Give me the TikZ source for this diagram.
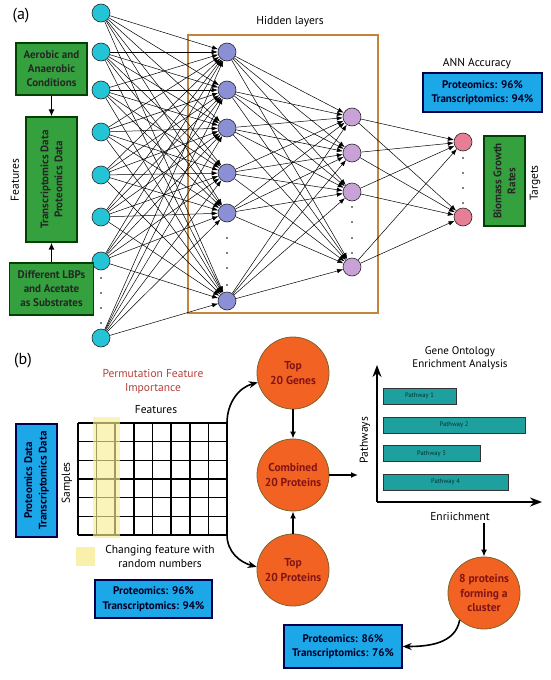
\documentclass[tikz,border=0pt]{standalone}
\usepackage{fontspec}
\setmainfont{PT Sans}
\usetikzlibrary{arrows.meta, calc, positioning}
\definecolor{inCyan}{RGB}{34,196,214}
\definecolor{hidA}{RGB}{138,143,214}
\definecolor{hidB}{RGB}{200,162,214}
\definecolor{outPink}{RGB}{230,126,150}
\definecolor{boxGreen}{RGB}{52,160,62}
\definecolor{boxBlue}{RGB}{28,168,232}
\definecolor{circOrange}{RGB}{242,98,34}
\definecolor{circEdge}{RGB}{125,100,40}
\definecolor{circText}{RGB}{130,20,20}
\definecolor{barTeal}{RGB}{30,160,158}
\definecolor{frameBrown}{RGB}{196,132,60}
\definecolor{permRed}{RGB}{180,64,58}
\definecolor{pfiYellow}{RGB}{248,238,150}

\begin{document}
\begin{tikzpicture}[x=1pt, y=1pt, font=\fontsize{11.5}{14}\selectfont,
  neuron/.style={circle, draw=black!85, line width=0.6pt, minimum size=18pt, inner sep=0pt},
  link/.style={-{Latex[length=6pt,width=4.5pt]}, line width=0.5pt},
  gbox/.style={draw=black!75!green, line width=1.2pt, fill=boxGreen, align=center,
               inner sep=1pt, text=black!85, font=\fontsize{11}{14}\selectfont\bfseries},
  bbox/.style={draw=black!70!blue, line width=1.2pt, fill=boxBlue, align=center,
               inner sep=1pt, text=black!85!blue, font=\fontsize{11}{14.5}\selectfont\bfseries},
  stage/.style={circle, draw=circEdge, line width=0.8pt, fill=circOrange, minimum size=72pt,
                inner sep=0pt, align=center, text=circText, font=\fontsize{11.5}{14.5}\selectfont\bfseries},
  pathbar/.style={draw=black!80, line width=1pt, fill=barTeal, minimum height=16pt,
                  text=black!60!teal, font=\fontsize{6.5}{7}\selectfont},
  vdot/.style={circle, fill=black, inner sep=0pt, minimum size=1.6pt},
  arr/.style={-{Latex[length=7pt,width=6pt]}, line width=1.6pt},
  curvearr/.style={-{Stealth[length=9pt,width=7pt]}, line width=1.6pt},
  axisarr/.style={-{Stealth[length=12pt,width=9pt]}, line width=1.6pt}
]
\useasboundingbox (0,0) rectangle (550,-680);

% (a) network
\node[font=\fontsize{16}{18}\selectfont] (lblA) at (21,-16) {(a)};
\node (hidlbl) at (290,-22) {Hidden layers};
\draw[frameBrown, line width=2pt] (188,-35) rectangle (378,-313);

\foreach \y [count=\i] in {13,52,90,132,175,217,261,338}
  \node[neuron, fill=inCyan] (in\i) at (101,-\y) {};
\foreach \y [count=\i] in {52,90,128,173,213,301}
  \node[neuron, fill=hidA] (hA\i) at (227,-\y) {};
\foreach \y [count=\i] in {117,153,192,267}
  \node[neuron, fill=hidB] (hB\i) at (352,-\y) {};
\foreach \y [count=\i] in {142,217}
  \node[neuron, fill=outPink] (out\i) at (463,-\y) {};

\foreach \i in {1,...,8}
  \foreach \j in {1,...,6}
    \draw[link] (in\i) -- (hA\j);
\foreach \i in {1,...,6}
  \foreach \j in {1,...,4}
    \draw[link] (hA\i) -- (hB\j);
\foreach \i in {1,...,4}
  \foreach \j in {1,2}
    \draw[link] (hB\i) -- (out\j);

\foreach \y in {278,293,308,323} \node[vdot] at (101,-\y) {};
\foreach \y in {238,253,268,285} \node[vdot] at (227,-\y) {};
\foreach \y in {207,222,238,253} \node[vdot] at (352,-\y) {};
\foreach \y in {158,173,188,203} \node[vdot] at (463,-\y) {};

\node[gbox, minimum width=71pt, minimum height=52pt] (aero) at (51.5,-69) {Aerobic and\\Anaerobic\\Conditions};
\node[gbox, rotate=90, minimum width=125pt, minimum height=51pt] (omics) at (51.5,-179.5) {Transcriptomics Data\\Proteomics Data};
\node[gbox, minimum width=84pt, minimum height=52pt] (lbp) at (51.5,-289) {Different LBPs\\and Acetate\\as Substrates};
\node[rotate=90] (featlbl) at (15,-180) {Features};
\draw[arr] (aero) -- (omics);
\draw[arr] (lbp) -- (omics);

\node (acclbl) at (477,-64) {ANN Accuracy};
\node[bbox, minimum width=119pt, minimum height=39pt] (annacc) at (482.5,-92.5) {Proteomics: 96\%\\Transcriptomics: 94\%};
\node[gbox, rotate=90, minimum width=90pt, minimum height=41pt] (biomass) at (504.5,-181) {Biomass Growth\\Rates};
\node[rotate=90] (tgtlbl) at (535,-183) {Targets};

% (b) feature importance
\node[font=\fontsize{16}{18}\selectfont] (lblB) at (23,-361) {(b)};
\node[text=permRed, align=center, font=\fontsize{11.5}{14}\selectfont] (perm) at (153,-382) {Permutation Feature\\Importance};
\node (featB) at (156,-410) {Features};
\foreach \i in {0,...,8}
  \draw[line width=1.6pt] (78+\i*18.625,-423) -- ++(0,-112);
\foreach \i in {0,...,6}
  \draw[line width=1.6pt] (78,-423-\i*18.667) -- ++(149,0);
\fill[pfiYellow, opacity=0.65] (93,-417) rectangle (120,-538);
\coordinate (gridNE) at (227,-423);
\coordinate (gridSE) at (227,-535);
\node[rotate=90] (samples) at (67,-483) {Samples};
\node[bbox, rotate=90, minimum width=113pt, minimum height=41pt] (omicsB) at (36.5,-480.5) {Proteomics Data\\Transcriptomics Data};

\fill[pfiYellow!80!white] (76,-547) rectangle (95,-566);
\node[align=center] (legtxt) at (160,-556) {Changing feature with\\random numbers};
\node[bbox, minimum width=117pt, minimum height=38pt] (pfiacc) at (153.5,-599) {Proteomics: 96\%\\Transcriptomics: 94\%};

\node[stage] (genes) at (293,-373) {Top\\20 Genes};
\node[stage] (combined) at (293,-475) {Combined\\20 Proteins};
\node[stage] (prots) at (293,-570) {Top\\20 Proteins};
\draw[curvearr] (gridNE) to[out=90,in=195] (genes.195);
\draw[curvearr] (gridSE) to[out=-90,in=165] (prots.175);
\draw[arr] (genes) -- (combined);
\draw[arr] (prots) -- (combined);
\coordinate (chartin) at (358,-475);
\draw[arr] (combined) -- (chartin);

% enrichment chart
\node[align=center, font=\fontsize{11}{13.5}\selectfont] (gotitle) at (460,-358) {Gene Ontology\\Enrichment Analysis};
\coordinate (origin) at (377,-502);
\coordinate (ytop) at (377,-365);
\coordinate (xend) at (542,-502);
\draw[axisarr] (origin) -- (ytop);
\draw[axisarr] (origin) -- (xend);
\node[rotate=90] (pathlbl) at (365,-440) {Pathways};
\node (enrlbl) at (460,-516) {Enriichment};
\node[pathbar, minimum width=73pt] (pw1) at (419.5,-396) {Pathway 1};
\node[pathbar, minimum width=142pt] (pw2) at (454,-425) {Pathway 2};
\node[pathbar, minimum width=97pt] (pw3) at (431.5,-453.5) {Pathway 3};
\node[pathbar, minimum width=125pt] (pw4) at (445.5,-482) {Pathway 4};

\node[stage] (cluster) at (484,-593) {8 proteins\\forming a\\cluster};
\coordinate (enrout) at (484,-523);
\draw[arr] (enrout) -- (cluster);
\node[bbox, minimum width=118pt, minimum height=43pt] (finalacc) at (343,-646.5) {Proteomics: 86\%\\Transcriptomics: 76\%};
\draw[curvearr] (cluster.228) to[out=260,in=0] (finalacc);
\end{tikzpicture}
\end{document}
